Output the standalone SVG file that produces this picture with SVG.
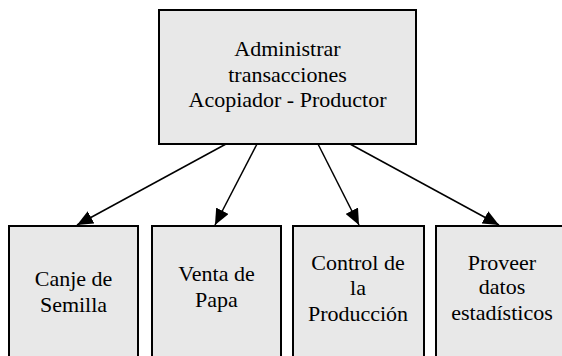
<svg xmlns="http://www.w3.org/2000/svg" width="562" height="356" viewBox="0 0 562 356">
<style>
.box{fill:#e8e8e8;stroke:#000;stroke-width:2}
text{font-family:"Liberation Serif","Times New Roman","DejaVu Serif",serif;font-size:22px;fill:#000;text-anchor:middle}
.c{stroke:#000;stroke-width:1.5;fill:none;marker-end:url(#ah)}
</style>
<defs>
<marker id="ah" markerUnits="userSpaceOnUse" markerWidth="16" markerHeight="14" viewBox="0 0 16 14" refX="16" refY="7" orient="auto">
<path d="M0,0 L16,7 L0,14 z" fill="#000"/>
</marker>
</defs>
<rect width="562" height="356" fill="#fff"/>
<g id="connectors">
<line class="c" x1="226" y1="144" x2="77" y2="225"/>
<line class="c" x1="257" y1="144" x2="215" y2="225"/>
<line class="c" x1="318" y1="144" x2="359" y2="225"/>
<line class="c" x1="350" y1="144" x2="499" y2="225"/>
</g>
<g id="root">
<rect class="box" x="159" y="10" width="257" height="134"/>
<text x="287.5" y="56" font-family="Liberation Serif, serif">Administrar</text>
<text x="287.5" y="82" font-family="Liberation Serif, serif">transacciones</text>
<text x="287.5" y="107" font-family="Liberation Serif, serif">Acopiador - Productor</text>
</g>
<g id="canje">
<rect class="box" x="9" y="226" width="129" height="140"/>
<text x="73.5" y="286">Canje de</text>
<text x="73.5" y="312">Semilla</text>
</g>
<g id="venta">
<rect class="box" x="152" y="226" width="129" height="140"/>
<text x="216.5" y="281">Venta de</text>
<text x="216.5" y="307">Papa</text>
</g>
<g id="control">
<rect class="box" x="293" y="226" width="131" height="140"/>
<text x="358" y="270">Control de</text>
<text x="358" y="295">la</text>
<text x="358" y="321">Producción</text>
</g>
<g id="proveer">
<rect class="box" x="436" y="226" width="132" height="140"/>
<text x="502" y="270">Proveer</text>
<text x="502" y="294">datos</text>
<text x="502" y="320">estadísticos</text>
</g>
</svg>
